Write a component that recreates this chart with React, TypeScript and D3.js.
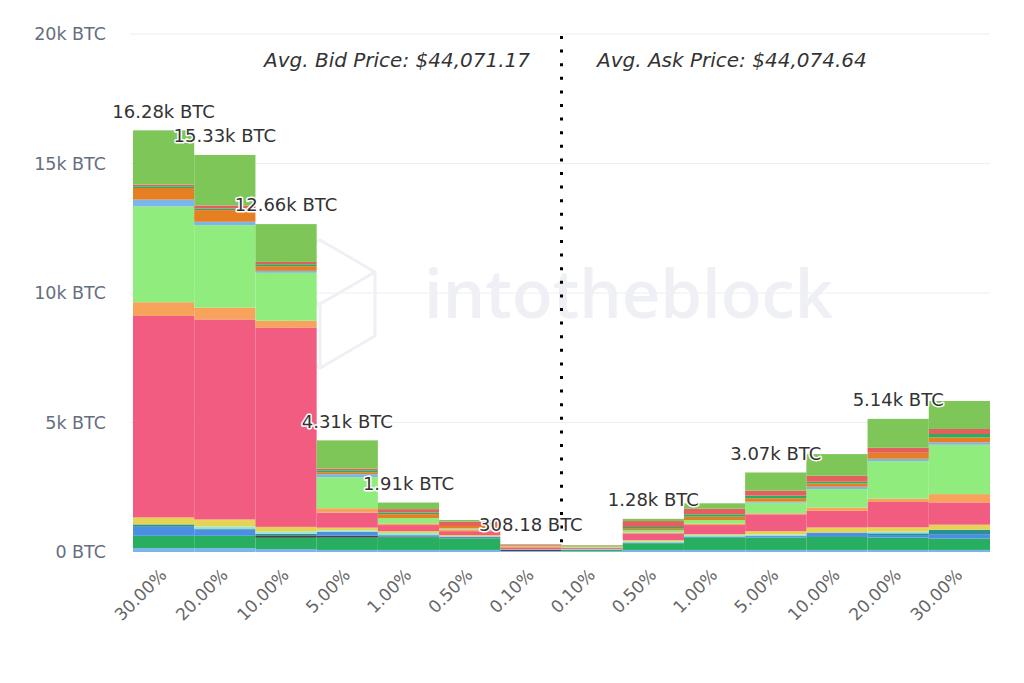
import React from "react";
import * as d3 from "d3";

const categories = ["30.00%", "20.00%", "10.00%", "5.00%", "1.00%", "0.50%", "0.10%", "0.10%", "0.50%", "1.00%", "5.00%", "10.00%", "20.00%", "30.00%"];

// stacked series, bottom to top
const seriesNames = ["s0", "s1", "s2", "s3", "s4", "s5", "s6", "s7", "s8", "s9", "s10", "s11", "s12", "s13", "s14"];
const seriesColors = ["#7cb5ec", "#27ae60", "#434348", "#4a90e2", "#2b908f", "#91e8e1", "#e4d354", "#f15c80", "#f7a35c", "#90ed7d", "#7cb5ec", "#e67e22", "#27ae60", "#e4605e", "#7dc657"];

const s0 = [150, 150, 115, 80, 80, 80, 40, 30, 80, 80, 80, 80, 80, 80];
const s1 = [475, 475, 435, 475, 490, 450, 0, 60, 260, 490, 475, 500, 475, 440];
const s2 = [0, 0, 90, 75, 30, 0, 45, 0, 0, 0, 0, 0, 0, 0];
const s3 = [350, 250, 0, 155, 50, 65, 15, 10, 30, 30, 60, 170, 100, 170];
const s4 = [90, 30, 60, 0, 0, 0, 0, 0, 0, 0, 0, 0, 65, 170];
const s5 = [0, 80, 90, 50, 80, 0, 0, 10, 40, 50, 60, 0, 65, 0];
const s6 = [270, 270, 180, 105, 80, 60, 10, 10, 50, 40, 130, 195, 170, 195];
const s7 = [7780, 7725, 7700, 580, 230, 150, 70, 40, 260, 350, 650, 645, 975, 860];
const s8 = [530, 460, 260, 170, 65, 70, 20, 10, 30, 60, 40, 130, 130, 320];
const s9 = [3700, 3180, 1850, 1200, 205, 40, 18.18, 40, 90, 135, 410, 710, 1450, 1905];
const s10 = [260, 130, 75, 115, 0, 0, 0, 0, 0, 0, 40, 90, 90, 90];
const s11 = [450, 450, 180, 75, 150, 90, 30, 15, 60, 130, 130, 130, 230, 195];
const s12 = [65, 60, 75, 75, 65, 0, 0, 0, 65, 90, 100, 65, 0, 130];
const s13 = [65, 120, 90, 65, 130, 165, 40, 25, 230, 220, 195, 230, 195, 195];
const s14 = [2095, 1950, 1460, 1090, 255, 65, 20, 20, 85, 205, 700, 835, 1115, 1080];
const seriesValues = [s0, s1, s2, s3, s4, s5, s6, s7, s8, s9, s10, s11, s12, s13, s14];

const showTotal = [true, true, true, true, true, false, true, false, true, false, true, false, true, false];

const yTicks = [0, 5000, 10000, 15000, 20000];
const yTickLabels = ["0 BTC", "5k BTC", "10k BTC", "15k BTC", "20k BTC"];

const bidLabel = "Avg. Bid Price: $44,071.17";
const askLabel = "Avg. Ask Price: $44,074.64";

const FONT = "'DejaVu Sans', sans-serif";

function fmtTotal(v: number) {
  return v >= 1000 ? (v / 1000).toFixed(2) + "k BTC" : v.toFixed(2) + " BTC";
}

export default function App() {
  const W = 1024, H = 683;
  const left = 133, right = 990, top = 34, bottom = 552;

  const x = d3.scaleBand<number>().domain(categories.map((_, i) => i)).range([left, right]).padding(0);
  const y = d3.scaleLinear().domain([0, 20000]).range([bottom, top]);

  const rows = categories.map((_, i) => {
    const r: Record<string, number> = {};
    seriesNames.forEach((n, k) => (r[n] = seriesValues[k][i]));
    return r;
  });
  const stacked = d3.stack<Record<string, number>>().keys(seriesNames)(rows);
  const totals = categories.map((_, i) => d3.sum(seriesValues, (s) => s[i]));

  const midX = (x(6)! + x.bandwidth() + x(7)!) / 2;

  return (
    <svg width={W} height={H} style={{ position: "absolute", left: 0, top: 0, background: "#fff" }}>
      {/* grid */}
      {yTicks.filter((t) => t > 0).map((t) => (
        <line key={t} x1={130} x2={990} y1={y(t)} y2={y(t)} stroke="#eeeeee" strokeWidth={1} />
      ))}
      {/* watermark */}
      <g>
        <g fill="none" stroke="#eef0f5" strokeWidth={3}>
          <path d="M 340 240 L 395 272 L 395 336 L 340 368 L 285 336 L 285 272 Z" transform="translate(-20,0)" />
          <path d="M 285 272 L 340 304 L 395 272 M 340 304 L 340 368 M 285 336 L 340 304" transform="translate(-20,0)" />
        </g>
        <text x={424} y={318} fill="#eef0f5" fontFamily="'Open Sans', sans-serif" fontSize={67} fontWeight={600}>intotheblock</text>
      </g>
      {/* y labels */}
      {yTicks.map((t, i) => (
        <text key={t} x={106} y={y(t)} dy="0.35em" textAnchor="end" fill="#666e7e" fontFamily={FONT} fontSize={17.5}>
          {yTickLabels[i]}
        </text>
      ))}
      {/* bars */}
      {stacked.map((layer, k) => (
        <g key={k} fill={seriesColors[k]}>
          {layer.map((d, i) => {
            const h = y(d[0]) - y(d[1]);
            if (h <= 0) return null;
            return <rect key={i} x={x(i)!} y={y(d[1])} width={x.bandwidth()} height={h} />;
          })}
        </g>
      ))}
      {/* divider */}
      <line x1={midX} x2={midX} y1={36} y2={bottom} stroke="#000" strokeWidth={3} strokeDasharray="3,10.6" />
      {/* avg prices */}
      <text x={530} y={67} textAnchor="end" fill="#333" fontFamily={FONT} fontSize={20} fontStyle="italic">{bidLabel}</text>
      <text x={597} y={67} textAnchor="start" fill="#333" fontFamily={FONT} fontSize={20} fontStyle="italic">{askLabel}</text>
      {/* totals */}
      {totals.map((t, i) =>
        showTotal[i] ? (
          <text
            key={i}
            x={x(i)! + x.bandwidth() / 2}
            y={y(t) - 19}
            dy="0.35em"
            textAnchor="middle"
            fill="#333"
            stroke="#fff"
            strokeWidth={3}
            strokeLinejoin="round"
            paintOrder="stroke"
            fontFamily={FONT}
            fontSize={18}
          >
            {fmtTotal(t)}
          </text>
        ) : null
      )}
      {/* x labels */}
      {categories.map((c, i) => {
        const cx = x(i)! + x.bandwidth() / 2 + 4;
        const cy = 576;
        return (
          <text key={i} x={cx} y={cy} textAnchor="end" transform={`rotate(-45 ${cx} ${cy})`} fill="#666" fontFamily={FONT} fontSize={17}>
            {c}
          </text>
        );
      })}
    </svg>
  );
}
